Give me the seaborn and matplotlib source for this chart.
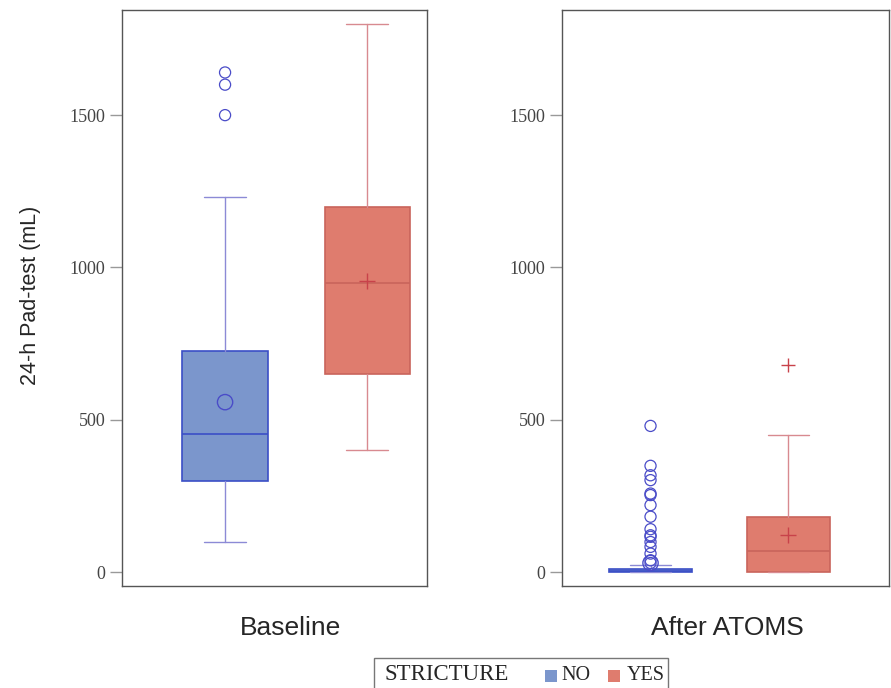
import pandas as pd
import matplotlib.pyplot as plt
from matplotlib.patches import Rectangle
import seaborn as sns

# Values (mL)
phases = ["Baseline", "After ATOMS"]
groups = ["NO", "YES"]

whis_low = {"Baseline": [100, 400], "After ATOMS": [0, 0]}
q1 = {"Baseline": [300, 650], "After ATOMS": [0, 0]}
medians = {"Baseline": [455, 950], "After ATOMS": [3, 70]}
q3 = {"Baseline": [725, 1200], "After ATOMS": [10, 180]}
whis_high = {"Baseline": [1230, 1800], "After ATOMS": [22, 450]}
means = {"Baseline": [558, 955], "After ATOMS": [30, 122]}

outliers_no = {"Baseline": [1500, 1600, 1640],
               "After ATOMS": [30, 39, 61, 83, 99, 116, 121, 141, 182, 220,
                               253, 258, 302, 318, 349, 480]}
outliers_yes = {"Baseline": [], "After ATOMS": [680]}

yticks = [0, 500, 1000, 1500]

# colours
fill = {"NO": "#7b96cc", "YES": "#df7c6e"}
edge = {"NO": "#3b4fc6", "YES": "#c9645b"}
whisk = {"NO": "#8c8ad6", "YES": "#d88a90"}
point_col = {"NO": "#4a4cc8", "YES": "#c8424a"}

sns.set_style("white")
plt.rcParams["font.family"] = ["Liberation Serif", "DejaVu Serif"]

fig = plt.figure(figsize=(8.91, 6.88), dpi=100)
ax1 = fig.add_axes([0.137, 0.148, 0.342, 0.837])
ax2 = fig.add_axes([0.631, 0.148, 0.367, 0.837])

xlims = {"Baseline": (-0.725, 1.42), "After ATOMS": (-0.64, 1.73)}

for ax, phase in zip([ax1, ax2], phases):
    stats = []
    for i, g in enumerate(groups):
        stats.append({"whislo": whis_low[phase][i], "q1": q1[phase][i],
                      "med": medians[phase][i], "q3": q3[phase][i],
                      "whishi": whis_high[phase][i], "fliers": [], "label": g})
    parts = ax.bxp(stats, positions=[0, 1], widths=0.6, patch_artist=True,
                   showfliers=False, capwidths=0.3)
    for i, g in enumerate(groups):
        box = parts["boxes"][i]
        box.set_facecolor(fill[g])
        box.set_edgecolor(edge[g])
        box.set_linewidth(1.2)
        parts["medians"][i].set_color(edge[g])
        parts["medians"][i].set_linewidth(1.2)
        for k in (2 * i, 2 * i + 1):
            parts["whiskers"][k].set_color(whisk[g])
            parts["whiskers"][k].set_linewidth(1.0)
            parts["caps"][k].set_color(whisk[g])
            parts["caps"][k].set_linewidth(1.0)

    # outliers
    out_df = pd.DataFrame({
        "group": ["NO"] * len(outliers_no[phase]) + ["YES"] * len(outliers_yes[phase]),
        "value": outliers_no[phase] + outliers_yes[phase],
    })
    mean_df = pd.DataFrame({"group": groups, "value": means[phase]})

    n0 = len(ax.collections)
    sns.stripplot(data=out_df[out_df.group == "NO"], x="group", y="value",
                  order=groups, jitter=False, marker="o", s=8, ax=ax)
    for c in ax.collections[n0:]:
        c.set_facecolor("none")
        c.set_edgecolor(point_col["NO"])
        c.set_linewidth(0.9)
    if len(outliers_yes[phase]):
        sns.stripplot(data=out_df[out_df.group == "YES"], x="group", y="value",
                      order=groups, jitter=False, marker="+", s=10,
                      color=point_col["YES"], linewidth=1.0, ax=ax)

    # means
    n0 = len(ax.collections)
    sns.stripplot(data=mean_df[mean_df.group == "NO"], x="group", y="value",
                  order=groups, jitter=False, marker="o", s=11, ax=ax)
    for c in ax.collections[n0:]:
        c.set_facecolor("none")
        c.set_edgecolor(point_col["NO"])
        c.set_linewidth(1.0)
    sns.stripplot(data=mean_df[mean_df.group == "YES"], x="group", y="value",
                  order=groups, jitter=False, marker="+", s=12,
                  color=point_col["YES"], linewidth=1.0, ax=ax)

    ax.set_xlim(*xlims[phase])
    ax.set_ylim(-46, 1844)
    ax.set_xticks([])
    ax.set_yticks(yticks)
    ax.set_yticklabels([str(t) for t in yticks], fontsize=13, color="#444444")
    ax.tick_params(axis="y", left=True, length=9, width=1, color="#999999",
                   pad=3)
    ax.set_xlabel("")
    ax.set_ylabel("")
    for s in ax.spines.values():
        s.set_visible(True)
        s.set_color("#555555")
        s.set_linewidth(1.0)

fig.text(31 / 891, 1 - 295 / 688, "24-h Pad-test (mL)", rotation=90,
         ha="center", va="center", fontsize=15.5, family="Liberation Sans")
fig.text(290 / 891, 1 - 628 / 688, phases[0], ha="center", va="center",
         fontsize=19, family="Liberation Sans")
fig.text(727 / 891, 1 - 628 / 688, phases[1], ha="center", va="center",
         fontsize=19, family="Liberation Sans")

# legend box
fig.patches.append(Rectangle((374 / 891, 1 - 692 / 688), (668 - 374) / 891,
                             (692 - 658) / 688, transform=fig.transFigure,
                             facecolor="white", edgecolor="#777777", lw=1.0))
ly = 1 - 675 / 688
fig.text(385 / 891, ly, "STRICTURE", ha="left", va="center", fontsize=16.5)
fig.patches.append(Rectangle((545 / 891, 1 - 682 / 688), 12 / 891, 12 / 688,
                             transform=fig.transFigure, facecolor=fill["NO"],
                             edgecolor="none"))
fig.text(561 / 891, ly, "NO", ha="left", va="center", fontsize=14.5)
fig.patches.append(Rectangle((608 / 891, 1 - 682 / 688), 12 / 891, 12 / 688,
                             transform=fig.transFigure, facecolor=fill["YES"],
                             edgecolor="none"))
fig.text(627 / 891, ly, "YES", ha="left", va="center", fontsize=14.5)

fig.savefig("out.png", dpi=100)
